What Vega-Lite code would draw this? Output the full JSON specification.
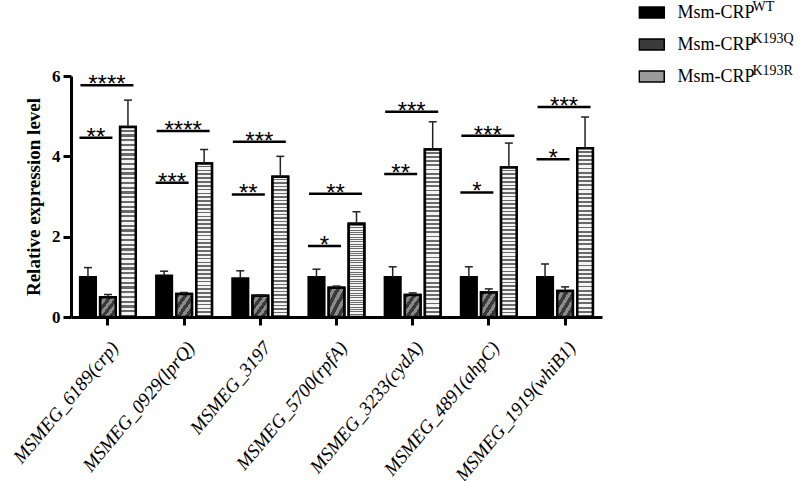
{
  "$schema": "https://vega.github.io/schema/vega-lite/v6.json",
  "width": 531,
  "height": 241,
  "autosize": {"type": "none"},
  "padding": {"left": 71, "top": 76, "right": 198, "bottom": 164},
  "background": "white",
  "config": {
    "view": {"stroke": null},
    "font": "Liberation Serif",
    "axisY": {
      "grid": false,
      "domainWidth": 3,
      "domainColor": "black",
      "tickWidth": 3,
      "tickSize": 8,
      "tickColor": "black",
      "labelFont": "Liberation Serif",
      "labelFontWeight": "bold",
      "labelFontSize": 17,
      "labelColor": "black",
      "labelPadding": 3,
      "titleFont": "Liberation Serif",
      "titleFontWeight": "bold",
      "titleFontSize": 19,
      "titleColor": "black",
      "titlePadding": 8
    }
  },
  "datasets": {
    "bars": [
      {"gene": "MSMEG_6189(crp)", "series": "WT", "mean": 0.99, "upper": 1.23},
      {"gene": "MSMEG_6189(crp)", "series": "K193Q", "mean": 0.49, "upper": 0.56},
      {"gene": "MSMEG_6189(crp)", "series": "K193R", "mean": 4.73, "upper": 5.40},
      {"gene": "MSMEG_0929(lprQ)", "series": "WT", "mean": 1.03, "upper": 1.14},
      {"gene": "MSMEG_0929(lprQ)", "series": "K193Q", "mean": 0.57, "upper": 0.61},
      {"gene": "MSMEG_0929(lprQ)", "series": "K193R", "mean": 3.82, "upper": 4.17},
      {"gene": "MSMEG_3197", "series": "WT", "mean": 0.96, "upper": 1.15},
      {"gene": "MSMEG_3197", "series": "K193Q", "mean": 0.53, "upper": 0.55},
      {"gene": "MSMEG_3197", "series": "K193R", "mean": 3.49, "upper": 4.00},
      {"gene": "MSMEG_5700(rpfA)", "series": "WT", "mean": 0.99, "upper": 1.19},
      {"gene": "MSMEG_5700(rpfA)", "series": "K193Q", "mean": 0.73, "upper": 0.77},
      {"gene": "MSMEG_5700(rpfA)", "series": "K193R", "mean": 2.32, "upper": 2.62},
      {"gene": "MSMEG_3233(cydA)", "series": "WT", "mean": 0.99, "upper": 1.25},
      {"gene": "MSMEG_3233(cydA)", "series": "K193Q", "mean": 0.55, "upper": 0.60},
      {"gene": "MSMEG_3233(cydA)", "series": "K193R", "mean": 4.17, "upper": 4.86},
      {"gene": "MSMEG_4891(ahpC)", "series": "WT", "mean": 0.99, "upper": 1.25},
      {"gene": "MSMEG_4891(ahpC)", "series": "K193Q", "mean": 0.61, "upper": 0.70},
      {"gene": "MSMEG_4891(ahpC)", "series": "K193R", "mean": 3.72, "upper": 4.33},
      {"gene": "MSMEG_1919(whiB1)", "series": "WT", "mean": 0.99, "upper": 1.32},
      {"gene": "MSMEG_1919(whiB1)", "series": "K193Q", "mean": 0.65, "upper": 0.75},
      {"gene": "MSMEG_1919(whiB1)", "series": "K193R", "mean": 4.20, "upper": 4.98}
    ],
    "sig": [
      {"gene": "MSMEG_6189(crp)", "level": "low", "y": 4.46, "label": "**"},
      {"gene": "MSMEG_6189(crp)", "level": "high", "y": 5.77, "label": "****"},
      {"gene": "MSMEG_0929(lprQ)", "level": "low", "y": 3.34, "label": "***"},
      {"gene": "MSMEG_0929(lprQ)", "level": "high", "y": 4.63, "label": "****"},
      {"gene": "MSMEG_3197", "level": "low", "y": 3.05, "label": "**"},
      {"gene": "MSMEG_3197", "level": "high", "y": 4.36, "label": "***"},
      {"gene": "MSMEG_5700(rpfA)", "level": "low", "y": 1.77, "label": "*"},
      {"gene": "MSMEG_5700(rpfA)", "level": "high", "y": 3.07, "label": "**"},
      {"gene": "MSMEG_3233(cydA)", "level": "low", "y": 3.56, "label": "**"},
      {"gene": "MSMEG_3233(cydA)", "level": "high", "y": 5.11, "label": "***"},
      {"gene": "MSMEG_4891(ahpC)", "level": "low", "y": 3.10, "label": "*"},
      {"gene": "MSMEG_4891(ahpC)", "level": "high", "y": 4.51, "label": "***"},
      {"gene": "MSMEG_1919(whiB1)", "level": "low", "y": 3.93, "label": "*"},
      {"gene": "MSMEG_1919(whiB1)", "level": "high", "y": 5.23, "label": "***"}
    ]
  },
  "encoding": {
    "x": {
      "field": "gene",
      "type": "nominal",
      "scale": {
        "domain": ["MSMEG_6189(crp)", "MSMEG_0929(lprQ)", "MSMEG_3197", "MSMEG_5700(rpfA)", "MSMEG_3233(cydA)", "MSMEG_4891(ahpC)", "MSMEG_1919(whiB1)"],
        "paddingInner": 0.27,
        "paddingOuter": 0.12
      },
      "axis": {
        "title": null,
        "domainWidth": 3,
        "domainColor": "black",
        "tickWidth": 3,
        "tickSize": 8,
        "tickColor": "black",
        "labelAngle": -50,
        "labelAlign": "right",
        "labelBaseline": "top",
        "labelFont": "Liberation Serif",
        "labelFontStyle": "italic",
        "labelFontSize": 19,
        "labelColor": "black",
        "labelPadding": 13,
        "labelLimit": 400,
        "labelOverlap": false
      }
    }
  },
  "layer": [
    {
      "data": {"name": "bars"},
      "mark": {"type": "bar", "strokeWidth": 2.5},
      "encoding": {
        "xOffset": {"field": "series", "type": "nominal", "scale": {"domain": ["WT", "K193Q", "K193R"], "paddingInner": 0.22}},
        "y": {"field": "mean", "type": "quantitative", "title": "Relative expression level", "scale": {"domain": [0, 6], "nice": false}, "axis": {"values": [0, 2, 4, 6]}},
        "fill": {
          "field": "series",
          "type": "nominal",
          "sort": ["WT", "K193Q", "K193R"],
          "scale": {"range": ["#000000", "#3a3a3a", "#9a9a9a"]},
          "legend": {
            "orient": "none",
            "legendX": 567.25,
            "legendY": -79.5,
            "title": null,
            "labelExpr": "'Msm-CRP'",
            "labelFont": "Liberation Serif",
            "labelFontSize": 18,
            "labelColor": "black",
            "symbolType": "M-1,-0.44H1V0.44H-1Z",
            "symbolSize": 624,
            "symbolStrokeColor": "black",
            "symbolStrokeWidth": 1.5,
            "labelOffset": 12.25,
            "clipHeight": 32,
            "rowPadding": 0,
            "padding": 0
          }
        },
        "stroke": {
          "field": "series",
          "type": "nominal",
          "scale": {"domain": ["WT", "K193Q", "K193R"], "range": ["black", "black", "black"]},
          "legend": {
            "orient": "none",
            "legendX": 642.25,
            "legendY": -85.5,
            "title": null,
            "labelFont": "Liberation Serif",
            "labelFontSize": 14,
            "labelColor": "black",
            "symbolType": "M-1,-0.44H1V0.44H-1Z",
            "symbolSize": 624,
            "symbolOpacity": 0,
            "symbolStrokeWidth": 1.5,
            "labelOffset": 12.25,
            "clipHeight": 32,
            "rowPadding": 0,
            "padding": 0
          }
        }
      }
    },
    {
      "data": {"name": "bars"},
      "transform": [{"filter": "datum.series === 'K193Q'"}],
      "mark": {
        "type": "bar",
        "stroke": "black",
        "strokeWidth": 2.5,
        "fill": {
          "gradient": "linear", "x1": 0, "y1": 0, "x2": 1, "y2": 1,
          "stops": [
            {"offset": 0, "color": "#3a3a3a"}, {"offset": 0.13, "color": "#3a3a3a"},
            {"offset": 0.13, "color": "#8a8a8a"}, {"offset": 0.25, "color": "#8a8a8a"},
            {"offset": 0.25, "color": "#3a3a3a"}, {"offset": 0.38, "color": "#3a3a3a"},
            {"offset": 0.38, "color": "#8a8a8a"}, {"offset": 0.5, "color": "#8a8a8a"},
            {"offset": 0.5, "color": "#3a3a3a"}, {"offset": 0.63, "color": "#3a3a3a"},
            {"offset": 0.63, "color": "#8a8a8a"}, {"offset": 0.75, "color": "#8a8a8a"},
            {"offset": 0.75, "color": "#3a3a3a"}, {"offset": 0.88, "color": "#3a3a3a"},
            {"offset": 0.88, "color": "#8a8a8a"}, {"offset": 1, "color": "#8a8a8a"}
          ]
        }
      },
      "encoding": {
        "xOffset": {"field": "series", "type": "nominal"},
        "y": {"field": "mean", "type": "quantitative", "title": "Relative expression level", "axis": {"values": [0, 2, 4, 6]}}
      }
    },
    {
      "data": {"name": "bars"},
      "transform": [{"filter": "datum.series === 'K193R'"}],
      "mark": {
        "type": "bar",
        "stroke": "black",
        "strokeWidth": 2.5,
        "fill": {
          "gradient": "linear", "x1": 0, "y1": 0, "x2": 0, "y2": 1,
          "stops": [
            {"offset": 0, "color": "#f4f4f4"}, {"offset": 0.014, "color": "#f4f4f4"}, {"offset": 0.014, "color": "#6a6a6a"}, {"offset": 0.025, "color": "#6a6a6a"},
            {"offset": 0.025, "color": "#f4f4f4"}, {"offset": 0.039, "color": "#f4f4f4"}, {"offset": 0.039, "color": "#6a6a6a"}, {"offset": 0.05, "color": "#6a6a6a"},
            {"offset": 0.05, "color": "#f4f4f4"}, {"offset": 0.064, "color": "#f4f4f4"}, {"offset": 0.064, "color": "#6a6a6a"}, {"offset": 0.075, "color": "#6a6a6a"},
            {"offset": 0.075, "color": "#f4f4f4"}, {"offset": 0.089, "color": "#f4f4f4"}, {"offset": 0.089, "color": "#6a6a6a"}, {"offset": 0.1, "color": "#6a6a6a"},
            {"offset": 0.1, "color": "#f4f4f4"}, {"offset": 0.114, "color": "#f4f4f4"}, {"offset": 0.114, "color": "#6a6a6a"}, {"offset": 0.125, "color": "#6a6a6a"},
            {"offset": 0.125, "color": "#f4f4f4"}, {"offset": 0.139, "color": "#f4f4f4"}, {"offset": 0.139, "color": "#6a6a6a"}, {"offset": 0.15, "color": "#6a6a6a"},
            {"offset": 0.15, "color": "#f4f4f4"}, {"offset": 0.164, "color": "#f4f4f4"}, {"offset": 0.164, "color": "#6a6a6a"}, {"offset": 0.175, "color": "#6a6a6a"},
            {"offset": 0.175, "color": "#f4f4f4"}, {"offset": 0.189, "color": "#f4f4f4"}, {"offset": 0.189, "color": "#6a6a6a"}, {"offset": 0.2, "color": "#6a6a6a"},
            {"offset": 0.2, "color": "#f4f4f4"}, {"offset": 0.214, "color": "#f4f4f4"}, {"offset": 0.214, "color": "#6a6a6a"}, {"offset": 0.225, "color": "#6a6a6a"},
            {"offset": 0.225, "color": "#f4f4f4"}, {"offset": 0.239, "color": "#f4f4f4"}, {"offset": 0.239, "color": "#6a6a6a"}, {"offset": 0.25, "color": "#6a6a6a"},
            {"offset": 0.25, "color": "#f4f4f4"}, {"offset": 0.264, "color": "#f4f4f4"}, {"offset": 0.264, "color": "#6a6a6a"}, {"offset": 0.275, "color": "#6a6a6a"},
            {"offset": 0.275, "color": "#f4f4f4"}, {"offset": 0.289, "color": "#f4f4f4"}, {"offset": 0.289, "color": "#6a6a6a"}, {"offset": 0.3, "color": "#6a6a6a"},
            {"offset": 0.3, "color": "#f4f4f4"}, {"offset": 0.314, "color": "#f4f4f4"}, {"offset": 0.314, "color": "#6a6a6a"}, {"offset": 0.325, "color": "#6a6a6a"},
            {"offset": 0.325, "color": "#f4f4f4"}, {"offset": 0.339, "color": "#f4f4f4"}, {"offset": 0.339, "color": "#6a6a6a"}, {"offset": 0.35, "color": "#6a6a6a"},
            {"offset": 0.35, "color": "#f4f4f4"}, {"offset": 0.364, "color": "#f4f4f4"}, {"offset": 0.364, "color": "#6a6a6a"}, {"offset": 0.375, "color": "#6a6a6a"},
            {"offset": 0.375, "color": "#f4f4f4"}, {"offset": 0.389, "color": "#f4f4f4"}, {"offset": 0.389, "color": "#6a6a6a"}, {"offset": 0.4, "color": "#6a6a6a"},
            {"offset": 0.4, "color": "#f4f4f4"}, {"offset": 0.414, "color": "#f4f4f4"}, {"offset": 0.414, "color": "#6a6a6a"}, {"offset": 0.425, "color": "#6a6a6a"},
            {"offset": 0.425, "color": "#f4f4f4"}, {"offset": 0.439, "color": "#f4f4f4"}, {"offset": 0.439, "color": "#6a6a6a"}, {"offset": 0.45, "color": "#6a6a6a"},
            {"offset": 0.45, "color": "#f4f4f4"}, {"offset": 0.464, "color": "#f4f4f4"}, {"offset": 0.464, "color": "#6a6a6a"}, {"offset": 0.475, "color": "#6a6a6a"},
            {"offset": 0.475, "color": "#f4f4f4"}, {"offset": 0.489, "color": "#f4f4f4"}, {"offset": 0.489, "color": "#6a6a6a"}, {"offset": 0.5, "color": "#6a6a6a"},
            {"offset": 0.5, "color": "#f4f4f4"}, {"offset": 0.514, "color": "#f4f4f4"}, {"offset": 0.514, "color": "#6a6a6a"}, {"offset": 0.525, "color": "#6a6a6a"},
            {"offset": 0.525, "color": "#f4f4f4"}, {"offset": 0.539, "color": "#f4f4f4"}, {"offset": 0.539, "color": "#6a6a6a"}, {"offset": 0.55, "color": "#6a6a6a"},
            {"offset": 0.55, "color": "#f4f4f4"}, {"offset": 0.564, "color": "#f4f4f4"}, {"offset": 0.564, "color": "#6a6a6a"}, {"offset": 0.575, "color": "#6a6a6a"},
            {"offset": 0.575, "color": "#f4f4f4"}, {"offset": 0.589, "color": "#f4f4f4"}, {"offset": 0.589, "color": "#6a6a6a"}, {"offset": 0.6, "color": "#6a6a6a"},
            {"offset": 0.6, "color": "#f4f4f4"}, {"offset": 0.614, "color": "#f4f4f4"}, {"offset": 0.614, "color": "#6a6a6a"}, {"offset": 0.625, "color": "#6a6a6a"},
            {"offset": 0.625, "color": "#f4f4f4"}, {"offset": 0.639, "color": "#f4f4f4"}, {"offset": 0.639, "color": "#6a6a6a"}, {"offset": 0.65, "color": "#6a6a6a"},
            {"offset": 0.65, "color": "#f4f4f4"}, {"offset": 0.664, "color": "#f4f4f4"}, {"offset": 0.664, "color": "#6a6a6a"}, {"offset": 0.675, "color": "#6a6a6a"},
            {"offset": 0.675, "color": "#f4f4f4"}, {"offset": 0.689, "color": "#f4f4f4"}, {"offset": 0.689, "color": "#6a6a6a"}, {"offset": 0.7, "color": "#6a6a6a"},
            {"offset": 0.7, "color": "#f4f4f4"}, {"offset": 0.714, "color": "#f4f4f4"}, {"offset": 0.714, "color": "#6a6a6a"}, {"offset": 0.725, "color": "#6a6a6a"},
            {"offset": 0.725, "color": "#f4f4f4"}, {"offset": 0.739, "color": "#f4f4f4"}, {"offset": 0.739, "color": "#6a6a6a"}, {"offset": 0.75, "color": "#6a6a6a"},
            {"offset": 0.75, "color": "#f4f4f4"}, {"offset": 0.764, "color": "#f4f4f4"}, {"offset": 0.764, "color": "#6a6a6a"}, {"offset": 0.775, "color": "#6a6a6a"},
            {"offset": 0.775, "color": "#f4f4f4"}, {"offset": 0.789, "color": "#f4f4f4"}, {"offset": 0.789, "color": "#6a6a6a"}, {"offset": 0.8, "color": "#6a6a6a"},
            {"offset": 0.8, "color": "#f4f4f4"}, {"offset": 0.814, "color": "#f4f4f4"}, {"offset": 0.814, "color": "#6a6a6a"}, {"offset": 0.825, "color": "#6a6a6a"},
            {"offset": 0.825, "color": "#f4f4f4"}, {"offset": 0.839, "color": "#f4f4f4"}, {"offset": 0.839, "color": "#6a6a6a"}, {"offset": 0.85, "color": "#6a6a6a"},
            {"offset": 0.85, "color": "#f4f4f4"}, {"offset": 0.864, "color": "#f4f4f4"}, {"offset": 0.864, "color": "#6a6a6a"}, {"offset": 0.875, "color": "#6a6a6a"},
            {"offset": 0.875, "color": "#f4f4f4"}, {"offset": 0.889, "color": "#f4f4f4"}, {"offset": 0.889, "color": "#6a6a6a"}, {"offset": 0.9, "color": "#6a6a6a"},
            {"offset": 0.9, "color": "#f4f4f4"}, {"offset": 0.914, "color": "#f4f4f4"}, {"offset": 0.914, "color": "#6a6a6a"}, {"offset": 0.925, "color": "#6a6a6a"},
            {"offset": 0.925, "color": "#f4f4f4"}, {"offset": 0.939, "color": "#f4f4f4"}, {"offset": 0.939, "color": "#6a6a6a"}, {"offset": 0.95, "color": "#6a6a6a"},
            {"offset": 0.95, "color": "#f4f4f4"}, {"offset": 0.964, "color": "#f4f4f4"}, {"offset": 0.964, "color": "#6a6a6a"}, {"offset": 0.975, "color": "#6a6a6a"},
            {"offset": 0.975, "color": "#f4f4f4"}, {"offset": 0.989, "color": "#f4f4f4"}, {"offset": 0.989, "color": "#6a6a6a"}, {"offset": 1, "color": "#6a6a6a"}
          ]
        }
      },
      "encoding": {
        "xOffset": {"field": "series", "type": "nominal"},
        "y": {"field": "mean", "type": "quantitative", "title": "Relative expression level", "axis": {"values": [0, 2, 4, 6]}}
      }
    },
    {
      "data": {"name": "bars"},
      "mark": {"type": "rule", "color": "#222222", "strokeWidth": 1.5},
      "encoding": {
        "xOffset": {"field": "series", "type": "nominal"},
        "y": {"field": "mean", "type": "quantitative", "title": "Relative expression level", "axis": {"values": [0, 2, 4, 6]}},
        "y2": {"field": "upper"}
      }
    },
    {
      "data": {"name": "bars"},
      "mark": {"type": "tick", "orient": "horizontal", "color": "#222222", "opacity": 1, "size": 8, "thickness": 1.5},
      "encoding": {
        "xOffset": {"field": "series", "type": "nominal"},
        "y": {"field": "upper", "type": "quantitative", "title": "Relative expression level", "axis": {"values": [0, 2, 4, 6]}}
      }
    },
    {
      "data": {"name": "sig"},
      "transform": [{"filter": "datum.level === 'low'"}],
      "mark": {"type": "tick", "orient": "horizontal", "color": "black", "opacity": 1, "size": 33, "thickness": 2.5, "xOffset": -12},
      "encoding": {
        "y": {"field": "y", "type": "quantitative", "title": "Relative expression level", "axis": {"values": [0, 2, 4, 6]}}
      }
    },
    {
      "data": {"name": "sig"},
      "transform": [{"filter": "datum.level === 'high'"}],
      "mark": {"type": "tick", "orient": "horizontal", "color": "black", "opacity": 1, "size": 53, "thickness": 2.5, "xOffset": -1},
      "encoding": {
        "y": {"field": "y", "type": "quantitative", "title": "Relative expression level", "axis": {"values": [0, 2, 4, 6]}}
      }
    },
    {
      "data": {"name": "sig"},
      "transform": [{"filter": "datum.level === 'low'"}],
      "mark": {"type": "text", "font": "Liberation Sans", "fontSize": 24, "color": "black", "baseline": "alphabetic", "align": "center", "xOffset": -12, "dy": 7},
      "encoding": {
        "y": {"field": "y", "type": "quantitative", "title": "Relative expression level", "axis": {"values": [0, 2, 4, 6]}},
        "text": {"field": "label"}
      }
    },
    {
      "data": {"name": "sig"},
      "transform": [{"filter": "datum.level === 'high'"}],
      "mark": {"type": "text", "font": "Liberation Sans", "fontSize": 24, "color": "black", "baseline": "alphabetic", "align": "center", "xOffset": -1, "dy": 7},
      "encoding": {
        "y": {"field": "y", "type": "quantitative", "title": "Relative expression level", "axis": {"values": [0, 2, 4, 6]}},
        "text": {"field": "label"}
      }
    }
  ]
}
